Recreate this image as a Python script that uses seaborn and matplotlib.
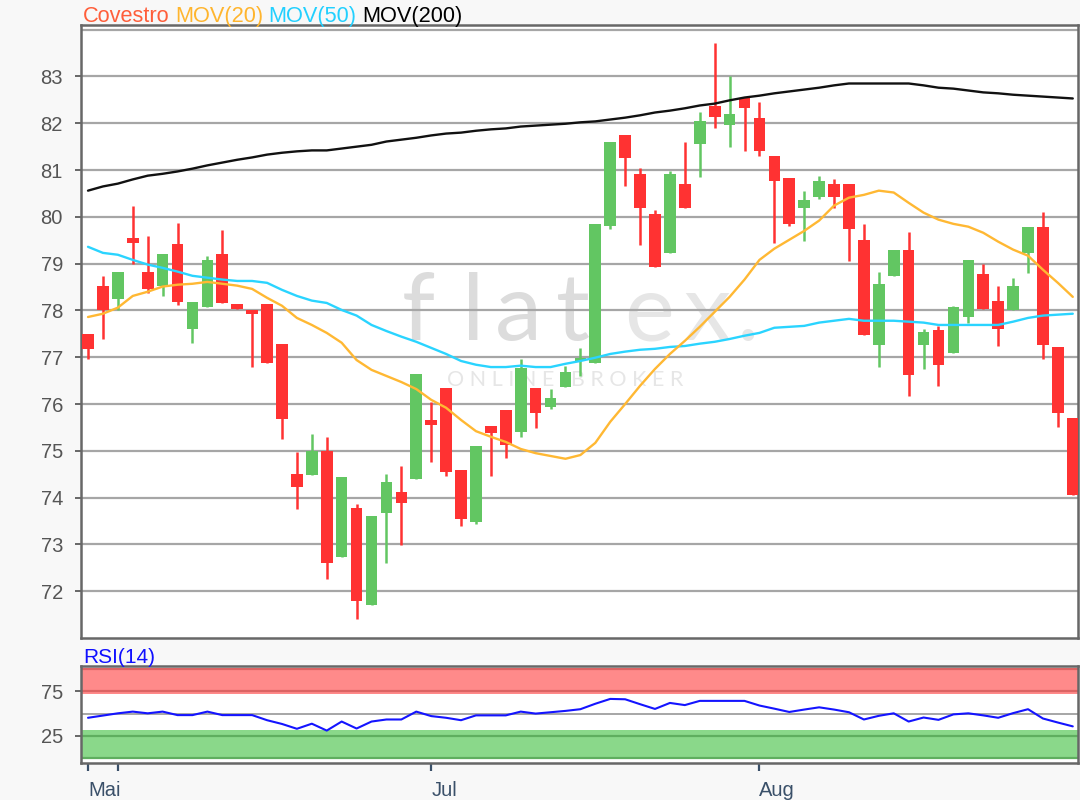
import numpy as np
import pandas as pd
import matplotlib
matplotlib.use("Agg")
import matplotlib.pyplot as plt
import seaborn as sns

# daily candles (index 0 = first visible day)
opens = [77.50, 78.53, 78.25, 79.55, 78.83, 78.53, 79.43, 77.60, 78.08, 79.21,
         78.14, 78.00, 78.14, 77.29, 74.50, 74.48, 75.00, 72.73, 73.78, 71.70,
         73.67, 74.12, 74.40, 75.66, 76.35, 74.59, 73.48, 75.53, 75.87, 75.40,
         76.35, 75.94, 76.37, 76.92, 76.88, 79.81, 81.74, 80.92, 80.07, 79.23,
         80.71, 81.55, 82.36, 81.97, 82.53, 82.12, 81.31, 80.84, 80.18, 80.43,
         80.70, 80.70, 79.51, 77.26, 78.74, 79.30, 77.26, 77.59, 77.09, 77.86,
         78.78, 78.21, 78.01, 79.23, 79.79, 77.22, 75.70]
highs = [77.50, 78.74, 78.83, 80.24, 79.60, 79.21, 79.87, 78.19, 79.17, 79.72,
         78.14, 78.00, 78.14, 77.29, 74.98, 75.36, 75.30, 74.44, 73.86, 73.60,
         74.50, 74.68, 76.64, 76.05, 76.35, 74.59, 75.10, 75.53, 75.87, 76.97,
         76.35, 76.32, 76.82, 77.20, 79.85, 81.61, 81.74, 81.05, 80.15, 80.97,
         81.61, 82.25, 83.71, 83.00, 82.53, 82.46, 81.31, 80.84, 80.56, 80.88,
         80.80, 80.70, 79.85, 78.83, 79.30, 79.68, 77.60, 77.67, 78.10, 79.08,
         79.00, 78.53, 78.70, 79.79, 80.11, 77.22, 75.70]
lows = [76.97, 77.40, 78.00, 79.00, 78.38, 78.30, 78.12, 77.30, 78.08, 78.16,
        78.03, 76.80, 76.88, 75.25, 73.76, 74.48, 72.26, 72.73, 71.40, 71.70,
        72.60, 72.98, 74.40, 74.76, 74.46, 73.39, 73.43, 74.46, 74.85, 75.30,
        75.49, 75.90, 76.37, 76.60, 76.88, 79.75, 80.65, 79.40, 78.93, 79.23,
        80.18, 80.86, 81.89, 81.50, 81.40, 81.31, 79.45, 79.80, 79.49, 80.39,
        80.18, 79.06, 77.48, 76.80, 78.74, 76.17, 76.75, 76.39, 77.09, 77.74,
        78.03, 77.24, 78.01, 78.81, 76.97, 75.51, 74.05]
closes = [77.18, 78.00, 78.83, 79.45, 78.46, 79.21, 78.19, 78.19, 79.08, 78.16,
          78.03, 77.92, 76.88, 75.68, 74.23, 75.00, 72.60, 74.44, 71.79, 73.60,
          74.33, 73.88, 76.64, 75.55, 74.55, 73.54, 75.10, 75.38, 75.12, 76.77,
          75.81, 76.13, 76.69, 76.99, 79.85, 81.61, 81.25, 80.18, 78.93, 80.92,
          80.18, 82.04, 82.14, 82.19, 82.32, 81.40, 80.77, 79.85, 80.35, 80.77,
          80.43, 79.75, 77.48, 78.57, 79.30, 76.62, 77.54, 76.84, 78.08, 79.08,
          78.03, 77.61, 78.53, 79.79, 77.26, 75.81, 74.05]

mov20 = [77.86, 77.93, 78.06, 78.31, 78.40, 78.51, 78.55, 78.57, 78.61, 78.57,
         78.53, 78.46, 78.27, 78.10, 77.84, 77.69, 77.52, 77.31, 76.94, 76.73,
         76.60, 76.47, 76.32, 76.09, 75.92, 75.66, 75.42, 75.30, 75.19, 75.04,
         74.95, 74.89, 74.83, 74.91, 75.17, 75.62, 76.00, 76.39, 76.75, 77.07,
         77.35, 77.65, 77.97, 78.29, 78.66, 79.08, 79.32, 79.51, 79.70, 79.92,
         80.24, 80.41, 80.47, 80.56, 80.52, 80.30, 80.09, 79.94, 79.85, 79.79,
         79.66, 79.47, 79.30, 79.17, 78.87, 78.59, 78.29]
mov50 = [79.36, 79.23, 79.19, 79.08, 78.98, 78.91, 78.83, 78.74, 78.70, 78.66,
         78.63, 78.63, 78.59, 78.44, 78.31, 78.21, 78.16, 78.01, 77.89, 77.69,
         77.56, 77.44, 77.33, 77.20, 77.07, 76.92, 76.84, 76.79, 76.79, 76.82,
         76.79, 76.79, 76.86, 76.92, 76.99, 77.07, 77.12, 77.16, 77.18, 77.22,
         77.24, 77.29, 77.33, 77.39, 77.46, 77.52, 77.63, 77.65, 77.67, 77.74,
         77.78, 77.82, 77.78, 77.78, 77.78, 77.76, 77.74, 77.69, 77.69, 77.69,
         77.69, 77.69, 77.76, 77.84, 77.89, 77.91, 77.93]
mov200 = [80.56, 80.65, 80.71, 80.80, 80.88, 80.92, 80.97, 81.03, 81.10, 81.16,
          81.22, 81.27, 81.33, 81.37, 81.40, 81.42, 81.42, 81.46, 81.50, 81.54,
          81.61, 81.65, 81.69, 81.74, 81.78, 81.80, 81.84, 81.87, 81.89, 81.93,
          81.95, 81.97, 81.99, 82.02, 82.04, 82.08, 82.12, 82.17, 82.23, 82.27,
          82.32, 82.38, 82.42, 82.49, 82.55, 82.59, 82.64, 82.68, 82.72, 82.76,
          82.81, 82.85, 82.85, 82.85, 82.85, 82.85, 82.81, 82.76, 82.74, 82.70,
          82.66, 82.64, 82.61, 82.59, 82.57, 82.55, 82.53]
rsi14 = [45.3, 47.8, 50.3, 52.2, 50.3, 52.2, 48.3, 48.3, 52.2, 48.3,
         48.3, 48.3, 42.6, 38.4, 33.0, 38.7, 31.0, 41.1, 33.3, 41.1,
         43.4, 43.4, 52.2, 47.2, 45.3, 42.6, 48.0, 48.0, 48.0, 52.2,
         50.0, 51.5, 53.0, 54.9, 61.0, 66.4, 66.0, 60.5, 55.2, 61.9,
         59.5, 64.2, 64.2, 64.2, 64.2, 59.0, 55.5, 51.8, 54.5, 57.0,
         54.5, 51.5, 43.4, 47.5, 50.3, 41.1, 45.6, 43.0, 49.1, 50.3,
         48.0, 45.3, 50.5, 54.9, 44.5, 40.0, 35.7]

month_ticks = [0, 2, 23, 45]
month_labels = ["Mai", "", "Jul", "Aug"]
price_ticks = [72, 73, 74, 75, 76, 77, 78, 79, 80, 81, 82, 83]
rsi_ticks = [25, 75]

title_parts = ["Covestro", "MOV(20)", "MOV(50)", "MOV(200)"]
title_colors = ["#ff5e3a", "#ffb52e", "#22d0ff", "#000000"]

# watermark letters and where each one starts (axes fraction)
logo_letters = ["f", "l", "a", "t", "e", "x", "."]
logo_x = [0.322, 0.382, 0.415, 0.476, 0.545, 0.605, 0.658]
logo_cols = ["#dcdcdc"] * 4 + ["#e6e6e6"] * 3

UP = "#62c662"
DOWN = "#ff3232"
GRID = "#a6a6a6"
FRAME = "#676767"


def main():
    sns.set_theme(style="white")
    plt.rcParams["font.family"] = ["Liberation Sans", "DejaVu Sans"]

    df = pd.DataFrame({"i": np.arange(len(opens)), "open": opens, "high": highs,
                       "low": lows, "close": closes, "mov20": mov20,
                       "mov50": mov50, "mov200": mov200, "rsi": rsi14})
    df["up"] = df["close"] >= df["open"]
    df["body_low"] = df[["open", "close"]].min(axis=1)
    df["body_h"] = (df["close"] - df["open"]).abs().clip(lower=0.06)
    df["col"] = np.where(df["up"], UP, DOWN)

    fig = plt.figure(figsize=(10.8, 8), dpi=100, facecolor="#f8f8f8")
    W, H = 1080.0, 800.0
    ax = fig.add_axes([81 / W, 1 - 638 / H, 997 / W, 613 / H])
    ax2 = fig.add_axes([81 / W, 1 - 762.6 / H, 997 / W, 96.6 / H])

    xlim = (-0.47, 66.35)

    # ---- main price panel
    ax.set_facecolor("white")
    for p in price_ticks + [84]:
        ax.axhline(p, color=GRID, lw=1.6, zorder=1)

    for ch, lx, lc in zip(logo_letters, logo_x, logo_cols):
        ax.text(lx, 0.486, ch, transform=ax.transAxes, fontsize=68,
                family=["Lato", "DejaVu Sans"], color=lc,
                ha="left", va="baseline", zorder=0)
    ax.text(0.367, 0.411, "O N L I N E   B R O K E R", transform=ax.transAxes,
            fontsize=15.5, family=["Lato", "DejaVu Sans"], color="#e6e6e6",
            ha="left", va="baseline", zorder=0)

    ax.vlines(df["i"], df["low"], df["high"], colors=df["col"], lw=1.8, zorder=3)
    ax.bar(df["i"], df["body_h"], bottom=df["body_low"], width=0.78,
           color=df["col"], linewidth=0, zorder=4)

    sns.lineplot(data=df, x="i", y="mov200", color="#111111", lw=1.7, ax=ax,
                 estimator=None, sort=False, zorder=5)
    sns.lineplot(data=df, x="i", y="mov50", color="#2ad4ff", lw=1.7, ax=ax,
                 estimator=None, sort=False, zorder=5)
    sns.lineplot(data=df, x="i", y="mov20", color="#ffb833", lw=1.7, ax=ax,
                 estimator=None, sort=False, zorder=5)

    ax.set_xlim(*xlim)
    ax.set_ylim(71.0, 84.1)
    ax.set_yticks(price_ticks)
    ax.set_yticklabels([str(p) for p in price_ticks])
    ax.set_xticks([])
    ax.set_xlabel("")
    ax.set_ylabel("")
    ax.tick_params(axis="y", which="both", left=True, direction="out",
                   length=4, width=1.4, color=FRAME, pad=9,
                   labelsize=14.5, labelcolor="#555555")
    for s in ax.spines.values():
        s.set_color(FRAME)
        s.set_linewidth(1.8)

    # ---- RSI panel
    ax2.set_facecolor("white")
    ax2.axhspan(72, 100, color="#ff8a8a", lw=0, zorder=1)
    ax2.axhspan(0, 32, color="#8ad88a", lw=0, zorder=1)
    for v in (100, 75):
        ax2.axhline(v, color="#dc6464", lw=1.6, zorder=2)
    for v in (25, 0):
        ax2.axhline(v, color="#5fae5f", lw=1.6, zorder=2)
    ax2.axhline(50, color=GRID, lw=1.4, zorder=2)
    sns.lineplot(data=df, x="i", y="rsi", color="#1414ff", lw=1.5, ax=ax2,
                 estimator=None, sort=False, zorder=5)
    ax2.set_xlim(*xlim)
    ax2.set_ylim(-4.8, 103.2)
    ax2.set_yticks(rsi_ticks)
    ax2.set_yticklabels([str(v) for v in rsi_ticks])
    ax2.set_xticks(month_ticks)
    ax2.set_xticklabels(month_labels, ha="left")
    ax2.set_xlabel("")
    ax2.set_ylabel("")
    ax2.tick_params(axis="y", left=True, direction="out", length=4, width=1.4,
                    color=FRAME, pad=9, labelsize=14.5, labelcolor="#555555")
    ax2.tick_params(axis="x", bottom=True, direction="out", length=6, width=1.6,
                    color="#3a5069", pad=7, labelsize=14.5, labelcolor="#3a5069")
    for s in ax2.spines.values():
        s.set_color(FRAME)
        s.set_linewidth(1.8)

    fig.text(83 / W, 1 - 663 / H, "RSI(14)", color="#1010ff", fontsize=15,
             ha="left", va="baseline")

    # ---- coloured title pieces, laid out one after another
    fig.canvas.draw()
    renderer = fig.canvas.get_renderer()
    x = 83.0
    for txt, col in zip(title_parts, title_colors):
        t = fig.text(x / W, 1 - 22 / H, txt, color=col, fontsize=15.7,
                     ha="left", va="baseline")
        bb = t.get_window_extent(renderer)
        x = bb.x1 + 5.5

    plt.savefig("out.png", dpi=100, facecolor=fig.get_facecolor())
    plt.close()


if __name__ == "__main__":
    main()
